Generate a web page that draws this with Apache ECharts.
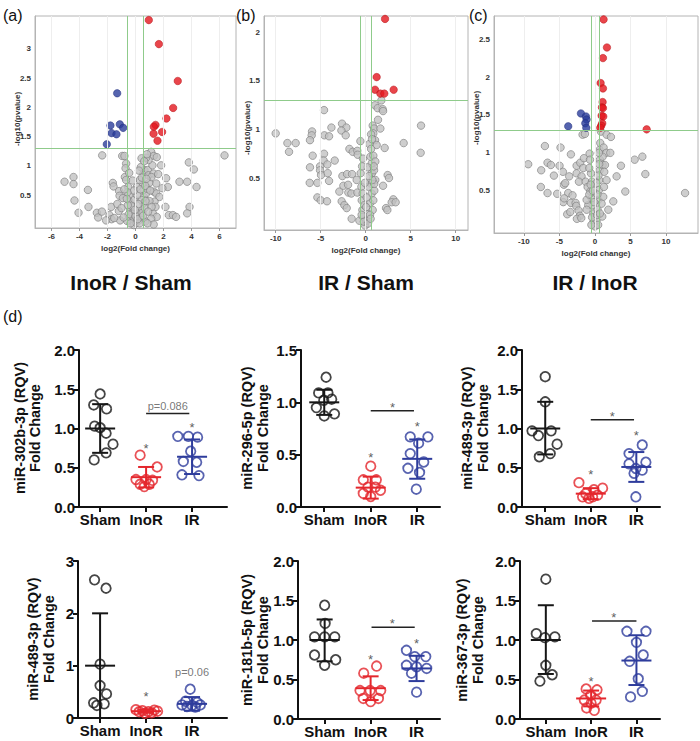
<!DOCTYPE html>
<html><head><meta charset="utf-8">
<script src="https://cdn.jsdelivr.net/npm/echarts@6/dist/echarts.min.js"></script>
<style>html,body{margin:0;padding:0;background:#fff}#c{width:700px;height:741px}</style>
</head><body><div id="c"></div>
<script>
// ---------------- Volcano data ----------------
const volcAXTicks = [-6,-4,-2,0,2,4,6];
const volcAYTicks = [0.5,1,1.5,2,2.5,3];
const volcARed = [[0.95,3.49],[1.67,3.08],[3.02,2.45],[2.69,1.99],[2.21,1.81],[1.43,1.70],[1.31,1.67],[1.90,1.58],[1.29,1.55],[1.57,1.43]];
const volcABlue = [[-1.31,2.24],[-1.79,1.69],[-1.12,1.71],[-0.88,1.65],[-1.71,1.56],[-1.36,1.54],[-2.05,1.37]];
const volcAGrey = [[-2.38,1.18],[-0.95,1.17],[-0.79,1.17],[-0.67,1.04],[1.12,1.24],[1.31,1.17],[1.52,1.15],[1.83,1.01],[6.36,1.18],[3.81,1.06],[4.17,0.94],[-5.07,0.73],[-4.43,0.81],[-4.43,0.69],[-3.40,0.59],[-4.36,0.41],[-4.07,0.20],[-3.36,0.30],[-2.76,0.20],[-2.67,0.12],[-2.40,0.22],[-1.62,0.71],[-1.57,0.65],[-1.17,0.57],[-1.14,0.49],[-0.71,0.96],[-0.76,0.81],[-0.67,0.76],[-0.52,0.64],[-0.48,0.50],[-0.43,0.39],[-0.38,0.24],[-0.31,0.13],[-0.24,0.05],[-0.12,-0.01],[0.05,0.03],[0.24,0.07],[0.40,0.13],[0.48,0.24],[0.57,0.36],[0.60,0.47],[0.57,0.59],[0.52,0.70],[0.57,0.87],[0.64,0.93],[0.88,0.93],[0.93,0.84],[1.29,0.87],[1.48,0.70],[1.31,0.56],[1.48,0.53],[1.71,0.47],[1.36,0.39],[1.43,0.30],[1.24,0.19],[1.52,0.13],[1.12,0.10],[2.19,0.79],[2.31,0.64],[2.14,0.30],[2.38,0.16],[2.67,0.16],[3.14,0.73],[3.69,0.73],[4.36,0.64],[3.86,0.30],[3.69,0.19],[2.90,0.13],[-1.74,0.30],[-1.86,0.16],[-1.71,0.09],[-2.10,0.07],[-1.19,0.23],[-1.10,0.07],[-0.24,0.19],[0.17,0.19],[0.40,0.42],[0.76,0.53],[0.83,0.61],[0.98,0.71],[1.14,0.81],[1.21,1.01],[0.93,1.10],[0.76,1.14],[0.43,1.13],[0.38,0.98],[0.10,0.64],[-0.07,0.42],[-0.19,0.30],[-0.30,0.32],[0.20,0.35],[0.12,0.50],[-0.10,0.58],[0.30,0.76],[-0.45,0.88],[0.62,1.08],[0.82,1.20],[0.50,0.20],[-0.50,0.17],[0.00,0.14],[0.70,0.05],[-0.60,0.06],[1.00,0.40],[1.62,0.86],[1.92,0.62],[-1.30,0.35],[-1.52,0.11],[-0.90,0.45],[0.30,0.02],[-0.35,0.02],[0.15,0.09],[-0.05,0.25],[0.35,0.60],[-0.20,0.75],[0.45,0.80],[0.25,0.92],[-0.55,0.33],[-0.62,0.44],[-0.58,0.55],[0.55,0.15],[0.66,0.28],[0.72,0.40],[0.70,0.66],[0.78,0.78],[1.05,0.58],[1.15,0.30],[0.90,0.22],[-0.85,0.12],[-1.00,0.28],[-0.80,0.60],[1.30,0.00],[0.85,0.02]];

const volcBXTicks = [-10,-5,0,5,10];
const volcBYTicks = [0.5,1,1.5,2];
const volcBRed = [[2.15,2.14],[1.22,1.54],[1.04,1.41],[1.63,1.37],[2.07,1.37],[3.11,1.41]];
const volcBBlue = [];
const volcBGrey = [[1.74,1.30],[1.04,1.25],[1.33,1.22],[1.89,1.21],[1.93,1.19],[-4.63,1.20],[6.15,1.04],[-10.0,0.96],[-8.70,0.86],[-7.78,0.86],[-8.52,0.77],[-5.96,0.98],[-6.0,0.94],[-6.19,0.89],[-5.89,0.73],[-4.59,0.94],[-4.07,0.93],[-3.81,1.02],[-2.63,1.06],[-2.15,1.02],[-2.70,0.99],[-2.22,0.94],[-1.81,0.80],[-1.44,0.77],[-0.93,0.78],[-0.89,0.74],[-0.59,0.88],[4.22,0.86],[6.11,0.76],[2.11,0.81],[0.78,1.04],[0.93,1.01],[1.63,1.01],[1.37,1.10],[0.85,0.96],[1.04,0.89],[1.22,0.84],[-4.63,0.75],[-4.67,0.68],[-4.26,0.64],[-3.44,0.68],[-5.07,0.62],[-6.19,0.61],[-5.07,0.58],[-4.96,0.53],[-4.22,0.55],[-4.07,0.47],[-6.22,0.45],[-5.37,0.45],[-5.37,0.30],[-5.0,0.27],[-4.30,0.26],[-2.93,0.36],[-2.59,0.52],[-2.48,0.42],[-2.07,0.54],[-1.96,0.43],[-1.93,0.35],[-2.67,0.26],[-2.37,0.22],[-2.11,0.19],[-1.59,0.34],[-1.52,0.54],[-1.0,0.48],[-0.93,0.35],[-1.56,0.08],[-0.70,0.06],[-0.56,0.55],[-0.48,0.41],[-0.44,0.27],[-0.37,0.17],[-0.26,0.10],[-0.07,0.01],[0.11,0.06],[0.30,0.13],[0.48,0.24],[0.67,0.34],[0.63,0.44],[0.70,0.55],[0.67,0.65],[0.52,0.72],[0.85,0.73],[1.07,0.67],[0.93,0.58],[1.07,0.48],[0.96,0.37],[0.85,0.27],[0.78,0.17],[0.48,0.12],[2.44,0.53],[2.59,0.50],[1.93,0.42],[3.07,0.28],[2.89,0.25],[3.33,0.25],[2.26,0.19],[2.41,0.17],[-0.15,0.22],[-0.33,0.34],[0.11,0.30],[0.30,0.41],[0.19,0.61],[-0.20,0.05],[0.25,0.03],[-0.10,0.45],[0.40,0.85],[0.60,0.95],[-0.30,0.70],[0.55,0.08],[0.60,0.80],[0.70,0.90],[0.90,0.62],[0.95,0.44],[0.75,0.48],[-0.40,0.62],[-0.45,0.12],[0.05,0.20],[0.35,0.52]];

const volcCXTicks = [-10,-5,0,5,10];
const volcCYTicks = [0.5,1,1.5,2,2.5];
const volcCRed = [[1.22,2.76],[1.69,2.39],[1.13,2.25],[0.80,1.92],[1.13,1.85],[1.08,1.67],[0.99,1.60],[1.13,1.59],[0.94,1.49],[1.17,1.48],[1.03,1.39],[0.89,1.36],[0.75,1.33],[7.28,1.31]];
const volcCBlue = [[-1.97,1.52],[-1.27,1.48],[-1.17,1.44],[-1.36,1.39],[-1.22,1.33],[-3.76,1.35]];
const volcCGrey = [[-1.74,1.24],[-1.41,1.25],[0.85,1.28],[1.64,1.24],[2.25,1.21],[-7.04,1.09],[-4.84,1.07],[-3.38,0.98],[-9.39,0.85],[-7.56,0.77],[-6.67,0.87],[-6.20,0.84],[-5.77,0.70],[-4.98,0.83],[-4.51,0.75],[-3.62,0.69],[-7.61,0.55],[-6.67,0.47],[-5.31,0.46],[-4.37,0.58],[-4.18,0.60],[-3.76,0.47],[-3.15,0.44],[-4.46,0.35],[-4.32,0.40],[-3.38,0.34],[-3.90,0.19],[-3.47,0.22],[-2.72,0.34],[-2.63,0.30],[-2.30,0.24],[-2.11,0.17],[-2.54,0.13],[-1.92,0.14],[-2.58,0.83],[-2.07,0.87],[-1.55,0.93],[-0.75,0.99],[-0.70,0.91],[-1.64,0.80],[-2.58,0.73],[-1.88,0.69],[-2.25,0.62],[-1.31,0.62],[-1.03,0.55],[-0.66,0.49],[-0.47,0.40],[-0.33,0.31],[-0.23,0.20],[-0.19,0.09],[0.00,0.03],[0.23,0.11],[0.38,0.25],[0.47,0.38],[0.56,0.51],[0.61,0.64],[0.66,0.77],[0.70,0.91],[0.66,1.04],[0.75,1.13],[1.22,1.07],[1.60,1.00],[2.16,1.00],[1.08,0.95],[1.08,0.84],[1.41,0.84],[1.31,0.75],[1.64,0.64],[1.27,0.55],[1.17,0.42],[1.88,0.25],[2.58,0.36],[3.66,0.83],[3.05,0.69],[4.27,0.49],[5.59,0.91],[6.67,0.95],[7.09,0.72],[12.68,0.47],[-0.56,0.73],[-0.42,0.62],[-0.94,0.31],[-1.17,0.25],[-1.17,0.38],[0.94,0.33],[1.03,0.16],[-0.40,0.15],[0.30,0.18],[-0.80,0.80],[0.20,0.60],[-0.10,0.35],[0.45,0.05],[-0.50,0.05],[0.50,0.70],[0.60,0.85],[0.55,1.00],[-0.60,0.58],[-0.80,0.45],[0.35,0.45],[-0.30,0.50],[0.70,0.20]];

// ---------------- Dot-plot data ----------------
const groups = ['Sham', 'InoR', 'IR'];

const d1Label = 'miR-302b-3p (RQV)';
const d1Values = [[1.44,1.30,1.25,1.03,1.01,0.94,0.80,0.69,0.60],[0.66,0.51,0.35,0.35,0.34,0.29,0.29,0.26],[0.90,0.90,0.89,0.71,0.58,0.57,0.41,0.40]];
const d1Jitter = [[0,-0.14,0.14,-0.12,0,0.13,0.28,0.13,-0.13],[-0.13,0.24,-0.22,0,0.14,-0.13,0.07,-0.04],[-0.31,-0.08,0.12,-0.03,-0.19,0.10,-0.22,0.15]];
const d1Mean = [1.00,0.38,0.64];
const d1SD = [[0.69,1.31],[0.25,0.51],[0.42,0.86]];
const d1Stars = [[2,0.78],[3,1.05]];
const d1Brackets = [[2,2.94,1.19]];
const d1Notes = [[2.47,1.29]];
const d1NoteText = ['p=0.086'];

const d2Label = 'miR-296-5p (RQV)';
const d2Values = [[1.24,1.09,1.09,1.02,1.03,0.95,0.89,0.87],[0.39,0.26,0.26,0.19,0.19,0.13,0.16,0.10],[0.67,0.67,0.61,0.51,0.43,0.37,0.33,0.17]];
const d2Jitter = [[0.04,-0.12,0.08,-0.01,0.16,-0.17,0.22,0],[0,-0.16,0.12,-0.06,0.10,-0.16,0.21,0],[-0.15,0.23,0.03,-0.15,0.14,-0.20,0.05,-0.02]];
const d2Mean = [1.00,0.185,0.46];
const d2SD = [[0.88,1.12],[0.08,0.29],[0.27,0.645]];
const d2Stars = [[2,0.50],[3,0.80],[2.47,0.98]];
const d2Brackets = [[2,2.93,0.92]];
const d2Notes = [];
const d2NoteText = [];

const d3Label = 'miR-489-3p (RQV)';
const d3Values = [[1.66,1.34,0.97,0.91,0.97,0.80,0.64,0.68],[0.31,0.24,0.17,0.22,0.15,0.13,0.11,0.13],[0.79,0.68,0.57,0.55,0.49,0.47,0.43,0.13]];
const d3Jitter = [[0,0,-0.29,-0.15,0.13,0.26,-0.13,0.11],[-0.26,0.26,-0.11,0.07,0.15,-0.18,-0.04,0.04],[0.13,-0.16,0.21,-0.16,-0.01,0.13,-0.05,-0.01]];
const d3Mean = [1.00,0.17,0.51];
const d3SD = [[0.67,1.34],[0.10,0.24],[0.32,0.70]];
const d3Stars = [[2,0.45],[3,0.95],[2.47,1.19]];
const d3Brackets = [[2,2.95,1.11]];
const d3Notes = [];
const d3NoteText = [];

const d4Label = 'miR-489-3p (RQV)';
const d4Values = [[2.64,2.48,1.03,0.62,0.46,0.29,0.24,0.27],[0.16,0.15,0.14,0.13,0.12,0.12,0.10,0.09],[0.55,0.32,0.30,0.25,0.24,0.25,0.22,0.21]];
const d4Jitter = [[-0.12,0.13,0,0,0.14,-0.14,-0.07,0.09],[-0.22,0.18,-0.08,0.25,-0.15,0.05,0.12,-0.02],[-0.04,-0.14,0.11,-0.22,0,0.18,-0.11,0.07]];
const d4Mean = [1.00,0.13,0.27];
const d4SD = [[0,2.0],[0.10,0.16],[0.14,0.40]];
const d4Stars = [[2,0.46]];
const d4Brackets = [];
const d4Notes = [[3,0.87]];
const d4NoteText = ['p=0.06'];

const d5Label = 'miR-181b-5p (RQV)';
const d5Values = [[1.44,1.21,1.04,1.04,1.04,0.81,0.75,0.68],[0.67,0.58,0.36,0.36,0.36,0.26,0.22,0.26],[0.87,0.79,0.79,0.68,0.66,0.64,0.58,0.34]];
const d5Jitter = [[0,0.01,-0.22,0,0.22,-0.22,0.24,0],[0.13,-0.15,-0.23,-0.01,0.22,-0.16,0,0.17],[-0.22,0.20,-0.04,-0.22,0,0.22,-0.11,0]];
const d5Mean = [1.00,0.39,0.64];
const d5SD = [[0.73,1.26],[0.24,0.54],[0.48,0.80]];
const d5Stars = [[2,0.79],[3,0.99],[2.47,1.25]];
const d5Brackets = [[2.02,2.96,1.16]];
const d5Notes = [];
const d5NoteText = [];

const d6Label = 'miR-367-3p (RQV)';
const d6Values = [[1.77,1.08,1.03,1.04,0.68,0.56,0.48],[0.38,0.37,0.30,0.24,0.24,0.14,0.11,0.20],[1.11,1.11,0.97,0.81,0.73,0.51,0.35,0.28]];
const d6Jitter = [[0,-0.21,-0.02,0.20,0,0.14,-0.13],[-0.11,0.13,-0.01,-0.15,0.11,-0.10,0.07,0],[-0.21,0.21,0,0.15,-0.15,0.04,0.13,-0.13]];
const d6Mean = [1.00,0.26,0.74];
const d6SD = [[0.57,1.44],[0.16,0.36],[0.43,1.06]];
const d6Stars = [[2,0.51],[2.5,1.32]];
const d6Brackets = [[2.02,3.0,1.24]];
const d6Notes = [];
const d6NoteText = [];

// ---------------- Build chart ----------------
const FONT = '"Liberation Sans", Arial, sans-serif';
const groupColors = ['#161616', '#e4262c', '#2e3c9c'];
const greenLine = '#8fcb8b';

const volcPanels = [
  {grey: volcAGrey, red: volcARed, blue: volcABlue, xt: volcAXTicks, yt: volcAYTicks,
   g: {left: 35, top: 16, width: 201, height: 212}, xr: [-7.18, 7.18], yr: [-0.06, 3.56], title: [17, 119]},
  {grey: volcBGrey, red: volcBRed, blue: volcBBlue, xt: volcBXTicks, yt: volcBYTicks,
   g: {left: 264, top: 16, width: 204, height: 214}, xr: [-11.3, 11.37], yr: [-0.036, 2.17], title: [247, 128]},
  {grey: volcCGrey, red: volcCRed, blue: volcCBlue, xt: volcCXTicks, yt: volcCYTicks,
   g: {left: 494, top: 16, width: 204, height: 217}, xr: [-14.2, 14.5], yr: [-0.057, 2.805], title: [476, 118]}
];

const dotPanels = [
  {label: d1Label, values: d1Values, jitter: d1Jitter, mean: d1Mean, sd: d1SD, stars: d1Stars, brackets: d1Brackets, notes: d1Notes, noteText: d1NoteText,
   g: {left: 79, top: 350, width: 148, height: 157}, xr: [0.54, 3.76], ymax: 2, interval: 0.5, dec: 1, title: [20, 35, 428]},
  {label: d2Label, values: d2Values, jitter: d2Jitter, mean: d2Mean, sd: d2SD, stars: d2Stars, brackets: d2Brackets, notes: d2Notes, noteText: d2NoteText,
   g: {left: 301, top: 350, width: 139, height: 157}, xr: [0.50, 3.49], ymax: 1.5, interval: 0.5, dec: 1, title: [247, 263, 428]},
  {label: d3Label, values: d3Values, jitter: d3Jitter, mean: d3Mean, sd: d3SD, stars: d3Stars, brackets: d3Brackets, notes: d3Notes, noteText: d3NoteText,
   g: {left: 522, top: 350, width: 138, height: 157}, xr: [0.49, 3.52], ymax: 2, interval: 0.5, dec: 1, title: [467, 483, 428]},
  {label: d4Label, values: d4Values, jitter: d4Jitter, mean: d4Mean, sd: d4SD, stars: d4Stars, brackets: d4Brackets, notes: d4Notes, noteText: d4NoteText,
   g: {left: 78, top: 561, width: 149, height: 157}, xr: [0.52, 3.76], ymax: 3, interval: 1, dec: 0, title: [33, 49, 639]},
  {label: d5Label, values: d5Values, jitter: d5Jitter, mean: d5Mean, sd: d5SD, stars: d5Stars, brackets: d5Brackets, notes: d5Notes, noteText: d5NoteText,
   g: {left: 298, top: 561, width: 142, height: 158}, xr: [0.42, 3.51], ymax: 2, interval: 0.5, dec: 1, title: [247, 263, 640]},
  {label: d6Label, values: d6Values, jitter: d6Jitter, mean: d6Mean, sd: d6SD, stars: d6Stars, brackets: d6Brackets, notes: d6Notes, noteText: d6NoteText,
   g: {left: 520, top: 561, width: 140, height: 158}, xr: [0.43, 3.52], ymax: 2, interval: 0.5, dec: 1, title: [462, 478, 640]}
];

const grid = [], xAxis = [], yAxis = [], series = [];

function txt(x, y, text, font, align, rot, fill) {
  return {type: 'text', x: x, y: y, rotation: rot || 0, silent: true, z: 100,
    style: {text: text, font: font, fill: fill || '#111', align: align || 'left', verticalAlign: 'middle',
      textAlign: align || 'left', textVerticalAlign: 'middle'}};
}
const graphic = [
  txt(3, 15, '(a)', '16px ' + FONT),
  txt(236, 15, '(b)', '16px ' + FONT),
  txt(469, 15, '(c)', '16px ' + FONT),
  txt(3, 316, '(d)', '16px ' + FONT),
  txt(131, 282, 'InoR / Sham', 'bold 21px ' + FONT, 'center'),
  txt(366, 282, 'IR / Sham', 'bold 21px ' + FONT, 'center'),
  txt(595, 282, 'IR / InoR', 'bold 21px ' + FONT, 'center')
];

volcPanels.forEach((p, i) => {
  grid.push(Object.assign({show: true, borderColor: '#b4b4b4', borderWidth: 1, backgroundColor: '#fff'}, p.g));
  xAxis.push({
    gridIndex: i, type: 'value', min: p.xr[0], max: p.xr[1],
    axisLine: {show: true, onZero: false, lineStyle: {color: '#b4b4b4', width: 1}},
    axisTick: {show: true, customValues: p.xt, length: 3, lineStyle: {color: '#999'}},
    axisLabel: {customValues: p.xt, fontSize: 8, fontWeight: 'bold', color: '#333', margin: 4, fontFamily: FONT},
    splitLine: {show: false},
    name: 'log2(Fold change)', nameLocation: 'middle', nameGap: 16,
    nameTextStyle: {fontSize: 8, fontWeight: 'bold', color: '#333', fontFamily: FONT}
  });
  yAxis.push({
    gridIndex: i, type: 'value', min: p.yr[0], max: p.yr[1],
    axisLine: {show: true, onZero: false, lineStyle: {color: '#b4b4b4', width: 1}},
    axisTick: {show: false, customValues: p.yt},
    axisLabel: {customValues: p.yt, fontSize: 8, fontWeight: 'bold', color: '#333', margin: 4, fontFamily: FONT},
    splitLine: {show: false}
  });
  graphic.push(txt(p.title[0], p.title[1], '-log10(pvalue)', 'bold 8px ' + FONT, 'center', Math.PI / 2, '#333'));
  series.push({
    type: 'scatter', xAxisIndex: i, yAxisIndex: i, data: [], z: 1,
    markLine: {silent: true, symbol: 'none', animation: false, label: {show: false},
      lineStyle: {color: '#eeeeee', width: 1, type: 'solid'},
      data: p.xt.map(v => ({xAxis: v}))}
  });
  series.push({
    type: 'scatter', xAxisIndex: i, yAxisIndex: i, data: [], z: 1,
    markLine: {silent: true, symbol: 'none', animation: false, label: {show: false},
      lineStyle: {color: greenLine, width: 1, type: 'solid', opacity: 1},
      emphasis: {disabled: true},
      data: [{xAxis: -0.585}, {xAxis: 0.585}, {yAxis: 1.301}]}
  });
  series.push({type: 'scatter', xAxisIndex: i, yAxisIndex: i, data: p.grey, symbolSize: 7.5, z: 2,
    itemStyle: {color: '#c2c2c2', borderColor: '#7d7d7d', borderWidth: 0.8}});
  series.push({type: 'scatter', xAxisIndex: i, yAxisIndex: i, data: p.red, symbolSize: 7.5, z: 3,
    itemStyle: {color: '#e3171e', borderColor: '#b31217', borderWidth: 0.6}});
  series.push({type: 'scatter', xAxisIndex: i, yAxisIndex: i, data: p.blue, symbolSize: 7.5, z: 3,
    itemStyle: {color: '#2b3d9b', borderColor: '#1e2b78', borderWidth: 0.6}});
});

dotPanels.forEach((p, k) => {
  const i = k + 3;
  grid.push(p.g);
  xAxis.push({
    gridIndex: i, type: 'value', min: p.xr[0], max: p.xr[1],
    axisLine: {show: true, onZero: false, lineStyle: {color: '#111', width: 2}},
    axisTick: {show: true, customValues: [1, 2, 3], length: 5, lineStyle: {color: '#111', width: 2}},
    axisLabel: {customValues: [1, 2, 3], formatter: v => groups[Math.round(v) - 1],
      fontSize: 15, fontWeight: 'bold', color: '#111', margin: 5, fontFamily: FONT},
    splitLine: {show: false}
  });
  yAxis.push({
    gridIndex: i, type: 'value', min: 0, max: p.ymax, interval: p.interval,
    axisLine: {show: true, onZero: false, lineStyle: {color: '#111', width: 2}},
    axisTick: {show: true, length: 5, lineStyle: {color: '#111', width: 2}},
    axisLabel: {formatter: v => v.toFixed(p.dec), fontSize: 15, fontWeight: 'bold', color: '#111', margin: 4, fontFamily: FONT},
    splitLine: {show: false}
  });
  graphic.push(txt(p.title[0], p.title[2], p.label, 'bold 14.5px ' + FONT, 'center', Math.PI / 2));
  graphic.push(txt(p.title[1], p.title[2], 'Fold Change', 'bold 14.5px ' + FONT, 'center', Math.PI / 2));
  p.values.forEach((vals, g) => {
    series.push({
      type: 'scatter', xAxisIndex: i, yAxisIndex: i, symbol: 'circle', symbolSize: 9.5, z: 3,
      data: vals.map((v, n) => [g + 1 + p.jitter[g][n], v]),
      itemStyle: {color: 'rgba(255,255,255,0)', borderColor: groupColors[g], borderWidth: 1.8}
    });
  });
  series.push({
    type: 'custom', xAxisIndex: i, yAxisIndex: i, z: 4, itemStyle: {color: '#111'},
    data: p.mean.map((m, g) => [g + 1, m, p.sd[g][0], p.sd[g][1]]),
    renderItem: (params, api) => {
      const x = api.value(0);
      const pm = api.coord([x, api.value(1)]);
      const pl = api.coord([x, api.value(2)]);
      const ph = api.coord([x, api.value(3)]);
      const c = groupColors[params.dataIndex];
      const st = {stroke: c, lineWidth: 2};
      return {type: 'group', children: [
        {type: 'line', shape: {x1: pm[0] - 15, y1: pm[1], x2: pm[0] + 15, y2: pm[1]}, style: st},
        {type: 'line', shape: {x1: pl[0], y1: pl[1], x2: ph[0], y2: ph[1]}, style: st},
        {type: 'line', shape: {x1: ph[0] - 8, y1: ph[1], x2: ph[0] + 8, y2: ph[1]}, style: st},
        {type: 'line', shape: {x1: pl[0] - 8, y1: pl[1], x2: pl[0] + 8, y2: pl[1]}, style: st}
      ]};
    }
  });
  if (p.brackets.length) {
    series.push({
      type: 'custom', xAxisIndex: i, yAxisIndex: i, z: 4, data: p.brackets, itemStyle: {color: '#222'},
      renderItem: (params, api) => {
        const a = api.coord([api.value(0), api.value(2)]);
        const b = api.coord([api.value(1), api.value(2)]);
        return {type: 'line', shape: {x1: a[0], y1: a[1], x2: b[0], y2: b[1]}, style: {stroke: '#222', lineWidth: 1.5}};
      }
    });
  }
  if (p.stars.length) {
    series.push({
      type: 'scatter', xAxisIndex: i, yAxisIndex: i, z: 5, data: p.stars, symbolSize: 0.1,
      itemStyle: {color: 'rgba(0,0,0,0)'},
      label: {show: true, position: 'inside', formatter: '*', fontSize: 13, color: '#333', offset: [0, 3], fontFamily: FONT}
    });
  }
  if (p.notes.length) {
    series.push({
      type: 'scatter', xAxisIndex: i, yAxisIndex: i, z: 5, data: p.notes, symbolSize: 0.1,
      itemStyle: {color: 'rgba(0,0,0,0)'},
      label: {show: true, position: 'inside', formatter: prm => p.noteText[prm.dataIndex], fontSize: 11, color: '#555', fontFamily: FONT}
    });
  }
});

const chart = echarts.init(document.getElementById('c'), null, {renderer: 'svg', width: 700, height: 741});
chart.setOption({
  animation: false,
  backgroundColor: '#ffffff',
  textStyle: {fontFamily: FONT},
  grid: grid, xAxis: xAxis, yAxis: yAxis, series: series, graphic: graphic
});
</script></body></html>
